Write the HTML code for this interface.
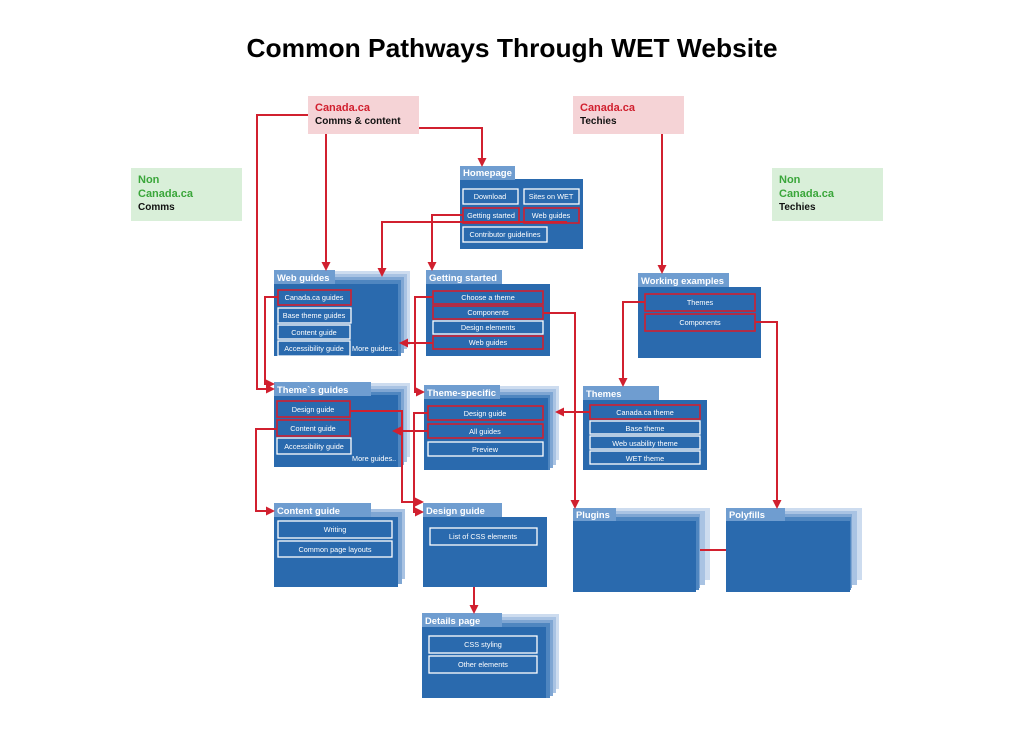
<!DOCTYPE html>
<html><head><meta charset="utf-8"><style>
html,body{margin:0;padding:0;background:#fff;}
svg{display:block;font-family:"Liberation Sans",sans-serif;}
.t{fill:#fff;font-weight:bold;font-size:9.4px;}
.b{fill:none;stroke:#fff;stroke-width:1.3;}
.r{fill:none;stroke:#d1202f;stroke-width:1.6;}
.bt{fill:#fff;font-size:7.3px;text-anchor:middle;}
.ln{fill:none;stroke:#d1202f;stroke-width:2;}
.l3{fill:#cddcef}.l2{fill:#a9c3e3}.l1{fill:#7fa6d3}.l0{fill:#4f86c0}
.bd{fill:#2a6aae}.tb{fill:#6f9dd0}
</style></head><body>
<svg width="1024" height="731" viewBox="0 0 1024 731">
<defs><marker id="a" markerWidth="9" markerHeight="9" refX="6" refY="4.5" orient="auto" markerUnits="userSpaceOnUse"><path d="M0,0 L9,4.5 L0,9 z" fill="#d1202f"/></marker></defs>
<text x="512" y="57" text-anchor="middle" font-size="26" font-weight="bold" fill="#000" textLength="531" lengthAdjust="spacingAndGlyphs">Common Pathways Through WET Website</text>

<rect x="308" y="96" width="111" height="38" fill="#f5d3d6"/>
<text x="315" y="111" font-size="11" font-weight="bold" fill="#d1202f">Canada.ca</text>
<text x="315" y="124" font-size="10" font-weight="bold" fill="#111">Comms &amp; content</text>
<rect x="573" y="96" width="111" height="38" fill="#f5d3d6"/>
<text x="580" y="111" font-size="11" font-weight="bold" fill="#d1202f">Canada.ca</text>
<text x="580" y="124" font-size="10" font-weight="bold" fill="#111">Techies</text>
<rect x="131" y="168" width="111" height="53" fill="#d9efd9"/>
<text x="138" y="183" font-size="11" font-weight="bold" fill="#3aa63a">Non</text>
<text x="138" y="197" font-size="11" font-weight="bold" fill="#3aa63a">Canada.ca</text>
<text x="138" y="210" font-size="10" font-weight="bold" fill="#111">Comms</text>
<rect x="772" y="168" width="111" height="53" fill="#d9efd9"/>
<text x="779" y="183" font-size="11" font-weight="bold" fill="#3aa63a">Non</text>
<text x="779" y="197" font-size="11" font-weight="bold" fill="#3aa63a">Canada.ca</text>
<text x="779" y="210" font-size="10" font-weight="bold" fill="#111">Techies</text>

<rect class="bd" x="460" y="179" width="123" height="70"/>
<rect class="tb" x="460" y="166" width="55" height="14"/>
<text class="t" x="463" y="176" textLength="49" lengthAdjust="spacingAndGlyphs">Homepage</text>
<rect class="b" x="463" y="189" width="55" height="15"/><text class="bt" x="490" y="199">Download</text>
<rect class="b" x="524" y="189" width="55" height="15"/><text class="bt" x="551" y="199">Sites on WET</text>
<rect class="r" x="463" y="208" width="56" height="15"/><text class="bt" x="491" y="218">Getting started</text>
<rect class="r" x="524" y="208" width="55" height="15"/><text class="bt" x="551" y="218">Web guides</text>
<rect class="b" x="463" y="227" width="84" height="15"/><text class="bt" x="505" y="237">Contributor guidelines</text>

<rect class="l3" x="335" y="271" width="75" height="74"/>
<rect class="l2" x="335" y="274" width="72" height="75"/>
<rect class="l1" x="335" y="277" width="69" height="76"/>
<rect class="l0" x="335" y="280" width="66" height="76"/>
<rect class="bd" x="274" y="284" width="124" height="72"/>
<rect class="tb" x="274" y="270" width="61" height="14"/>
<text class="t" x="277" y="281">Web guides</text>
<rect class="r" x="278" y="290" width="73" height="15"/><text class="bt" x="314" y="300">Canada.ca guides</text>
<rect class="b" x="278" y="308" width="73" height="15"/><text class="bt" x="314" y="318">Base theme guides</text>
<rect class="b" x="278" y="325" width="72" height="14"/><text class="bt" x="314" y="335">Content guide</text>
<rect class="b" x="278" y="341" width="72" height="15"/><text class="bt" x="314" y="351">Accessibility guide</text>
<text x="352" y="351" font-size="7.3" fill="#fff">More guides..</text>

<rect class="bd" x="426" y="284" width="124" height="72"/>
<rect class="tb" x="426" y="270" width="76" height="14"/>
<text class="t" x="429" y="281" textLength="68" lengthAdjust="spacingAndGlyphs">Getting started</text>
<rect class="r" x="433" y="291" width="110" height="13"/><text class="bt" x="488" y="300">Choose a theme</text>
<rect class="r" x="433" y="306" width="110" height="13"/><text class="bt" x="488" y="315">Components</text>
<rect class="b" x="433" y="321" width="110" height="13"/><text class="bt" x="488" y="330">Design elements</text>
<rect class="r" x="433" y="336" width="110" height="13"/><text class="bt" x="488" y="345">Web guides</text>

<rect class="bd" x="638" y="287" width="123" height="71"/>
<rect class="tb" x="638" y="273" width="91" height="14"/>
<text class="t" x="641" y="284" textLength="83" lengthAdjust="spacingAndGlyphs">Working examples</text>
<rect class="r" x="645" y="294" width="110" height="17"/><text class="bt" x="700" y="305">Themes</text>
<rect class="r" x="645" y="314" width="110" height="17"/><text class="bt" x="700" y="325">Components</text>

<rect class="l3" x="371" y="383" width="39" height="74"/>
<rect class="l2" x="371" y="386" width="36" height="76"/>
<rect class="l1" x="371" y="389" width="33" height="76"/>
<rect class="l0" x="371" y="392" width="30" height="75"/>
<rect class="bd" x="274" y="395" width="124" height="72"/>
<rect class="tb" x="274" y="382" width="97" height="14"/>
<text class="t" x="277" y="393">Theme`s guides</text>
<rect class="r" x="277" y="401" width="73" height="16"/><text class="bt" x="313" y="412">Design guide</text>
<rect class="r" x="277" y="420" width="73" height="16"/><text class="bt" x="313" y="431">Content guide</text>
<rect class="b" x="277" y="438" width="74" height="16"/><text class="bt" x="314" y="449">Accessibility guide</text>
<text x="352" y="461" font-size="7.3" fill="#fff">More guides..</text>

<rect class="l3" x="500" y="386" width="59" height="74"/>
<rect class="l2" x="500" y="389" width="56" height="76"/>
<rect class="l1" x="500" y="392" width="53" height="76"/>
<rect class="l0" x="500" y="395" width="50" height="75"/>
<rect class="bd" x="424" y="398" width="124" height="72"/>
<rect class="tb" x="424" y="385" width="76" height="14"/>
<text class="t" x="427" y="396" textLength="69" lengthAdjust="spacingAndGlyphs">Theme-specific</text>
<rect class="r" x="428" y="406" width="115" height="14"/><text class="bt" x="485" y="416">Design guide</text>
<rect class="r" x="428" y="424" width="115" height="14"/><text class="bt" x="485" y="434">All guides</text>
<rect class="b" x="428" y="442" width="115" height="14"/><text class="bt" x="485" y="452">Preview</text>

<rect class="bd" x="583" y="400" width="124" height="70"/>
<rect class="tb" x="583" y="386" width="76" height="14"/>
<text class="t" x="586" y="397">Themes</text>
<rect class="r" x="590" y="405" width="110" height="14"/><text class="bt" x="645" y="415">Canada.ca theme</text>
<rect class="b" x="590" y="421" width="110" height="13"/><text class="bt" x="645" y="431">Base theme</text>
<rect class="b" x="590" y="436" width="110" height="13"/><text class="bt" x="645" y="446">Web usability theme</text>
<rect class="b" x="590" y="451" width="110" height="13"/><text class="bt" x="645" y="461">WET theme</text>

<rect class="l2" x="371" y="509" width="34" height="70"/>
<rect class="l1" x="371" y="512" width="31" height="72"/>
<rect class="bd" x="274" y="517" width="124" height="70"/>
<rect class="tb" x="274" y="503" width="97" height="14"/>
<text class="t" x="277" y="514">Content guide</text>
<rect class="b" x="278" y="521" width="114" height="17"/><text class="bt" x="335" y="532">Writing</text>
<rect class="b" x="278" y="541" width="114" height="16"/><text class="bt" x="335" y="552">Common page layouts</text>

<rect class="bd" x="423" y="517" width="124" height="70"/>
<rect class="tb" x="423" y="503" width="79" height="14"/>
<text class="t" x="426" y="514">Design guide</text>
<rect class="b" x="430" y="528" width="107" height="17"/><text class="bt" x="483" y="539">List of CSS elements</text>

<rect class="l3" x="502" y="614" width="57" height="75"/>
<rect class="l2" x="502" y="617" width="54" height="76"/>
<rect class="l1" x="502" y="620" width="51" height="76"/>
<rect class="l0" x="502" y="623" width="48" height="75"/>
<rect class="bd" x="422" y="627" width="124" height="71"/>
<rect class="tb" x="422" y="613" width="80" height="14"/>
<text class="t" x="425" y="624">Details page</text>
<rect class="b" x="429" y="636" width="108" height="17"/><text class="bt" x="483" y="647">CSS styling</text>
<rect class="b" x="429" y="656" width="108" height="17"/><text class="bt" x="483" y="667">Other elements</text>

<rect class="l3" x="616" y="508" width="94" height="72"/>
<rect class="l2" x="616" y="511" width="89" height="74"/>
<rect class="l1" x="616" y="514" width="84" height="74"/>
<rect class="l0" x="616" y="517" width="83" height="73"/>
<rect class="bd" x="573" y="521" width="123" height="71"/>
<rect class="tb" x="573" y="508" width="43" height="13"/>
<text class="t" x="576" y="518">Plugins</text>

<rect class="l3" x="785" y="508" width="77" height="72"/>
<rect class="l2" x="785" y="511" width="72" height="74"/>
<rect class="l1" x="785" y="514" width="67" height="74"/>
<rect class="l0" x="785" y="517" width="66" height="73"/>
<rect class="bd" x="726" y="521" width="124" height="71"/>
<rect class="tb" x="726" y="508" width="59" height="13"/>
<text class="t" x="729" y="518">Polyfills</text>

<polyline class="ln" points="308,115 257,115 257,389 272,389" marker-end="url(#a)"/>
<polyline class="ln" points="326,134 326,268" marker-end="url(#a)"/>
<polyline class="ln" points="419,128 482,128 482,164" marker-end="url(#a)"/>
<polyline class="ln" points="662,134 662,271" marker-end="url(#a)"/>
<polyline class="ln" points="463,215 432,215 432,268" marker-end="url(#a)"/>
<polyline class="ln" points="567,222 382,222 382,274" marker-end="url(#a)"/>
<polyline class="ln" points="278,297 265,297 265,384 272,384" marker-end="url(#a)"/>
<polyline class="ln" points="433,297 415,297 415,392 422,392" marker-end="url(#a)"/>
<polyline class="ln" points="543,313 575,313 575,506" marker-end="url(#a)"/>
<polyline class="ln" points="433,343 402,343" marker-end="url(#a)"/>
<polyline class="ln" points="645,302 623,302 623,384" marker-end="url(#a)"/>
<polyline class="ln" points="755,322 777,322 777,506" marker-end="url(#a)"/>
<polyline class="ln" points="590,412 558,412" marker-end="url(#a)"/>
<polyline class="ln" points="428,431 395,431" marker-end="url(#a)"/>
<polyline class="ln" points="277,429 256,429 256,511 272,511" marker-end="url(#a)"/>
<polyline class="ln" points="350,411 402,411 402,502 421,502" marker-end="url(#a)"/>
<polyline class="ln" points="428,413 414,413 414,512 421,512" marker-end="url(#a)"/>
<polyline class="ln" points="474,587 474,611" marker-end="url(#a)"/>
<polyline class="ln" points="700,550 726,550"/>
</svg>
</body></html>
